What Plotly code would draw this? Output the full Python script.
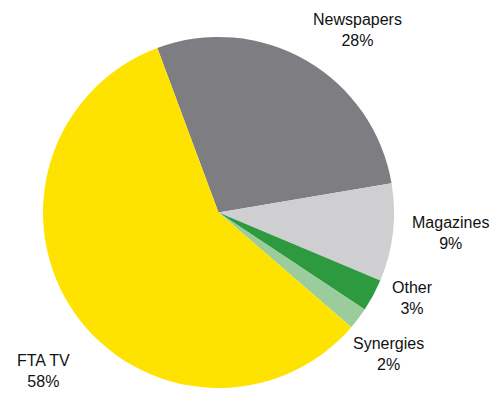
import plotly.graph_objects as go

# Advertising revenue share by medium
labels = ["Newspapers", "Magazines", "Other", "Synergies", "FTA TV"]
shares = [28, 9, 3, 2, 58]
colors = ["#7e7d82", "#cfcfd2", "#2d9a3f", "#9acd9b", "#ffe300"]

# label anchor positions in pixels (x from left, y from top) on a 497x395 canvas
W, H = 497, 395
label_pos = {
    "Newspapers": (357, 30),
    "Magazines": (450, 233),
    "Other": (412, 298),
    "Synergies": (388, 354),
    "FTA TV": (43, 371),
}

fig = go.Figure(
    go.Pie(
        labels=labels,
        values=shares,
        marker=dict(colors=colors, line=dict(width=0)),
        sort=False,
        direction="clockwise",
        rotation=-20.4,
        textinfo="none",
        hoverinfo="label+percent",
        domain=dict(x=[43 / W, 394 / W], y=[1 - 388 / H, 1 - 37 / H]),
        showlegend=False,
    )
)

for lab, val in zip(labels, shares):
    px, py = label_pos[lab]
    fig.add_annotation(
        x=px / W,
        y=1 - py / H,
        xref="paper",
        yref="paper",
        text=f"{lab}<br>{val}%",
        showarrow=False,
        xanchor="center",
        yanchor="middle",
        align="center",
        font=dict(family="Liberation Sans, Arial, sans-serif", size=16, color="#111111"),
    )

fig.update_layout(
    width=W,
    height=H,
    margin=dict(l=0, r=0, t=0, b=0),
    paper_bgcolor="white",
    plot_bgcolor="white",
)

fig.write_html("out.html")
